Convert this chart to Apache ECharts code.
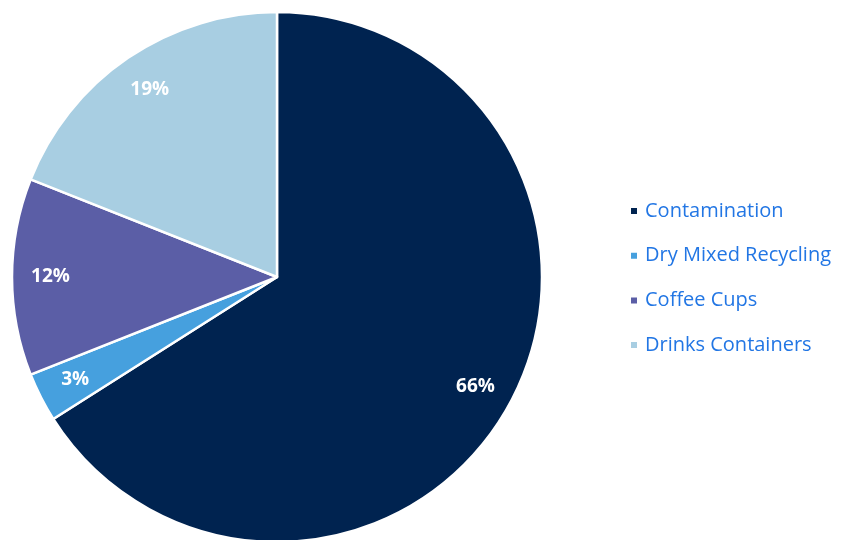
<!DOCTYPE html>
<html>
<head>
<meta charset="utf-8">
<script src="https://cdn.jsdelivr.net/npm/echarts@6/dist/echarts.min.js"></script>
<style>
  html, body { margin: 0; padding: 0; background: #ffffff; }
  #chart { width: 844px; height: 540px; }
</style>
</head>
<body>
<div id="chart"></div>
<script>
// Waste composition shares (percent)
const categories = ['Contamination', 'Dry Mixed Recycling', 'Coffee Cups', 'Drinks Containers'];
const shares = [66, 3, 12, 19];
const colors = ['#002350', '#46A0DE', '#5B5EA6', '#A8CEE2'];

const pieData = categories.map((name, i) => ({ name: name, value: shares[i] }));

const chart = echarts.init(document.getElementById('chart'));
chart.setOption({
  animation: false,
  color: colors,
  legend: {
    orient: 'vertical',
    left: 624,
    top: 196,
    itemWidth: 8,
    itemHeight: 8,
    itemGap: 24.7,
    icon: 'rect',
    textStyle: {
      fontFamily: 'Open Sans',
      fontSize: 20,
      color: '#2276E4',
      padding: [0, 0, 0, 2]
    },
    data: categories
  },
  series: [
    {
      // filled slices
      type: 'pie',
      center: [277, 277],
      radius: [0, 265],
      startAngle: 90,
      clockwise: true,
      silent: true,
      itemStyle: { borderColor: '#ffffff', borderWidth: 2.5 },
      label: { show: false },
      labelLine: { show: false },
      data: pieData
    },
    {
      // percentage labels placed near the outer rim
      type: 'pie',
      center: [277, 277],
      radius: [182, 265],
      startAngle: 90,
      clockwise: true,
      silent: true,
      legendHoverLink: false,
      itemStyle: { color: 'rgba(0,0,0,0)', borderWidth: 0 },
      label: {
        show: true,
        position: 'inside',
        formatter: '{c}%',
        color: '#ffffff',
        fontFamily: 'Open Sans',
        fontWeight: 'bold',
        fontSize: 19
      },
      labelLine: { show: false },
      data: pieData.map(d => ({ name: d.name + ' ', value: d.value }))
    }
  ]
});
</script>
</body>
</html>
